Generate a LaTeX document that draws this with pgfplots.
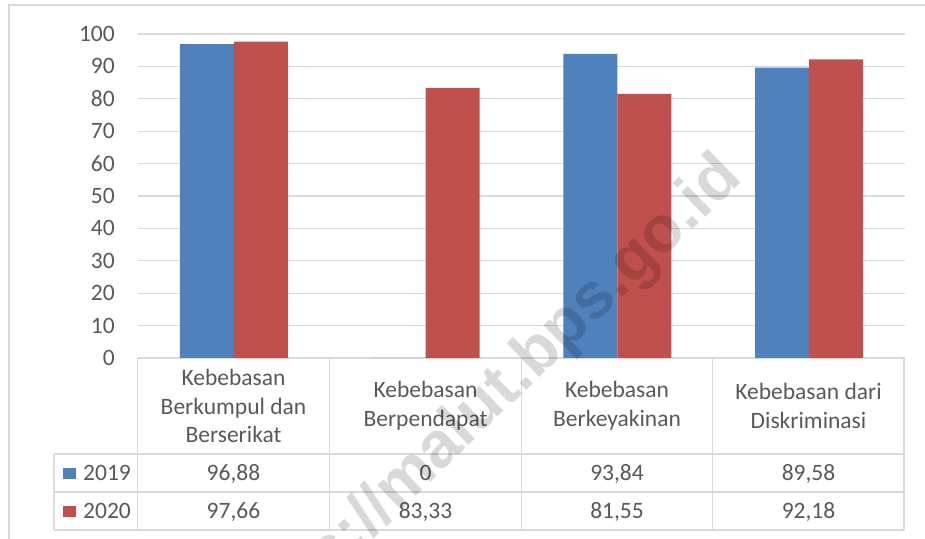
\documentclass[border=0pt]{standalone}
\usepackage{pgfplots}
\pgfplotsset{compat=1.18}
\usepackage{fontspec}
\setmainfont{Carlito}
\setsansfont{Liberation Sans}
\definecolor{cblue}{HTML}{4F81BD}
\definecolor{cred}{HTML}{C0504D}
\definecolor{cgrid}{HTML}{D9D9D9}
\definecolor{ctext}{HTML}{595959}
\newcommand\fs{\fontsize{23.5bp}{28.7bp}\selectfont}
\begin{document}
\begin{tikzpicture}[x=1bp,y=1bp]
\path[use as bounding box] (0,0) rectangle (925,539);
% chart frame
\draw[cgrid, line width=1.2bp] (9,-5) -- (9,534) -- (935,534);
\begin{axis}[
  at={(138bp,181bp)}, anchor=south west,
  scale only axis, width=767bp, height=324bp,
  xmin=-0.5, xmax=3.5, ymin=0, ymax=100,
  ytick={0,10,...,100}, xtick=\empty,
  axis line style={draw=none},
  ymajorgrids, grid style={cgrid, line width=1.2bp},
  major tick length=0pt,
  /pgf/number format/assume math mode=true,
  yticklabel style={font=\fs, text=ctext, inner sep=0pt, anchor=east, xshift=-23bp},
  ybar=0pt, bar width=54bp, clip=false,
]
\addplot[fill=cblue, draw=none] coordinates {(0,96.88) (1,0) (2,93.84) (3,89.58)};
\addplot[fill=cred, draw=none] coordinates {(0,97.66) (1,83.33) (2,81.55) (3,92.18)};
\end{axis}
% data table
\begin{scope}[cgrid, line width=1.2bp]
\foreach \x in {137.5,329.5,521.5,712.5,904} \draw (\x,181) -- (\x,9);
\draw (54,85) -- (54,9);
\foreach \y in {85,47,9} \draw (54,\y) -- (904,\y);
\end{scope}
\tikzset{cat/.style={font=\fs, text=ctext, align=center, anchor=center},
         val/.style={font=\fs, text=ctext, anchor=center, text height=14.8bp, text depth=0pt, inner sep=0pt}}
\node[cat] at (233.5,133) {Kebebasan\\Berkumpul dan\\Berserikat};
\node[cat] at (425.5,133) {Kebebasan\\Berpendapat};
\node[cat] at (617,133) {Kebebasan\\Berkeyakinan};
\node[cat] at (808.5,133) {Kebebasan dari\\Diskriminasi};
\node[val] at (233.5,66) {96,88};
\node[val] at (425.5,66) {0};
\node[val] at (617,66) {93,84};
\node[val] at (808.5,66) {89,58};
\node[val] at (233.5,28) {97,66};
\node[val] at (425.5,28) {83,33};
\node[val] at (617,28) {81,55};
\node[val] at (808.5,28) {92,18};
\fill[cblue] (63,60) rectangle (76,71);
\fill[cred] (63,22) rectangle (76,33);
\node[val, anchor=west] at (83,66) {2019};
\node[val, anchor=west] at (83,28) {2020};
% watermark
\node[rotate=44, font=\fontsize{65bp}{65bp}\selectfont\sffamily\bfseries, text=black, opacity=0.15, anchor=base east, inner sep=0pt] at (744,359) {https://malut.bps.go.id};
\end{tikzpicture}
\end{document}
